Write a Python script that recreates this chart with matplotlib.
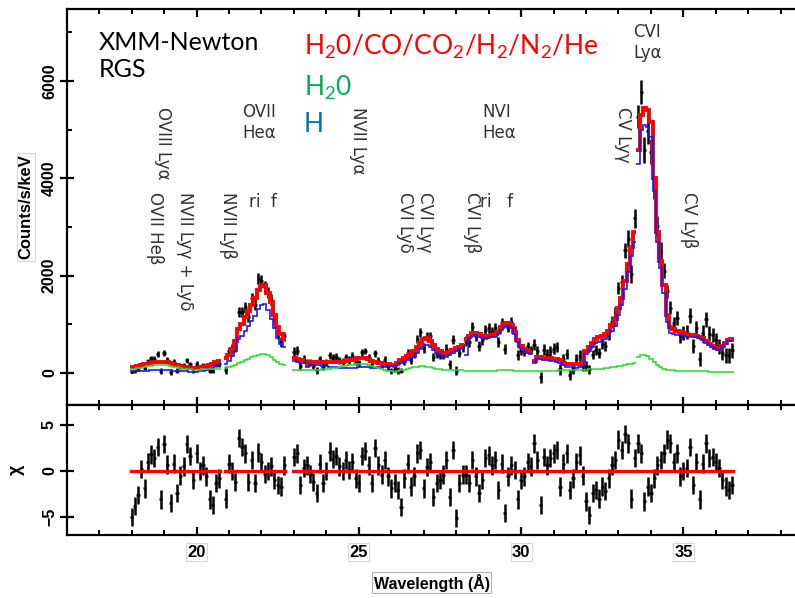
import numpy as np
import matplotlib.pyplot as plt
from matplotlib.ticker import MultipleLocator

plt.rcParams['mathtext.default'] = 'regular'
plt.rcParams['font.family'] = 'Liberation Sans'

# RGS channel groups: first / last bin centre (Angstrom), 0.1 A bins
segments = [(18.0, 20.7), (20.9, 22.7), (23.0, 23.3), (23.4, 28.2),
            (28.3, 30.3), (30.4, 33.5), (33.6, 36.5)]
bin_width = 0.1

# full model H2O/CO/CO2/H2/N2/He (counts/s/keV)
model_all = [
    120, 130, 145, 160, 180, 195, 210, 220, 230, 235, 230, 220, 205, 185, 165, 150, 130, 115, 105, 100,
    100, 110, 125, 145, 170, 195, 220, 245,
    300, 380, 500, 650, 900, 1000, 1150, 1280, 1400, 1550, 1700, 1780, 1800, 1650, 1450, 1200, 950, 800, 700,
    300, 290, 270, 260,
    170, 230, 230, 225, 225, 220,
    220, 220, 220, 225, 230, 235, 245, 260, 275, 290,
    300, 305, 300, 280, 255, 230, 215, 200, 190, 180,
    170, 160, 200, 260, 300, 350, 400, 450, 530, 620,
    700, 710, 660, 580, 500, 450, 410, 400, 430, 480,
    510, 540, 570,
    700, 760, 820, 830, 800, 770, 750, 760, 780, 800, 850, 940, 1000, 1020, 980, 850, 680, 560, 500, 460, 430,
    250, 320, 320, 315, 310, 300,
    290, 280, 260, 210, 185, 180, 175, 175, 180, 200,
    460, 530, 620, 690, 730, 770, 800, 870, 980, 1100,
    1330, 1550, 1900, 2250, 2600, 2900,
    4580, 5300, 5440, 5400, 5150, 4000, 2900, 2300, 1800, 1200,
    950, 900, 870, 850, 820, 800, 790, 780, 770, 750,
    710, 650, 600, 560, 520, 500, 560, 620, 680, 690,
]

# charge exchange with H only
model_h = [
    50, 50, 50, 50, 50, 50, 55, 60, 60, 65, 65, 60, 55, 50, 45, 40, 35, 35, 30, 30,
    30, 35, 45, 60, 80, 110, 140, 165,
    190, 250, 340, 460, 690, 760, 870, 970, 1060, 1180, 1320, 1390, 1410, 1290, 1120, 920, 720, 600, 530,
    240, 230, 210, 200,
    115, 170, 170, 160, 155, 145,
    140, 130, 120, 115, 110, 100, 95, 100, 105, 110,
    115, 120, 120, 115, 110, 110, 115, 120, 130, 135,
    135, 130, 160, 205, 230, 265, 300, 335, 405, 485,
    565, 580, 540, 475, 410, 370, 340, 335, 370, 420,
    455, 485, 515,
    380, 710, 770, 780, 750, 720, 700, 710, 730, 750, 795, 885, 945, 965, 925, 800, 630, 515, 455, 415, 385,
    210, 280, 278, 271, 265, 254,
    242, 230, 208, 156, 129, 122, 115, 113, 116, 134,
    390, 456, 542, 608, 644, 678, 700, 762, 864, 974,
    1194, 1400, 1735, 2070, 2405, 2690,
    4300, 5000, 5100, 5050, 4850, 3750, 2700, 2150, 1650, 1050,
    830, 800, 790, 780, 760, 750, 745, 740, 730, 710,
    670, 620, 570, 530, 495, 475, 535, 595, 655, 665,
]

# charge exchange with H2O only
model_h2o = [
    75, 85, 95, 110, 125, 140, 150, 155, 165, 165, 160, 155, 145, 130, 115, 105, 90, 80, 75, 70,
    65, 70, 75, 80, 85, 85, 80, 80,
    110, 125, 145, 170, 200, 230, 260, 290, 320, 350, 370, 385, 385, 360, 320, 270, 220, 185, 160,
    60, 60, 60, 60,
    55, 60, 60, 65, 70, 75,
    80, 90, 100, 110, 120, 135, 150, 160, 170, 180,
    185, 185, 180, 165, 145, 120, 100, 80, 60, 45,
    35, 30, 40, 55, 70, 85, 100, 115, 125, 135,
    135, 130, 120, 105, 90, 80, 70, 65, 60, 60,
    55, 55, 55,
    50, 50, 50, 50, 50, 50, 50, 50, 50, 50, 55, 55, 55, 55, 55, 50, 50, 45, 45, 45, 45,
    40, 40, 42, 44, 45, 46,
    48, 50, 52, 54, 56, 58, 60, 62, 64, 66,
    70, 74, 78, 82, 86, 92, 100, 108, 116, 126,
    136, 150, 165, 180, 195, 210,
    330, 370, 370, 340, 280, 220, 160, 120, 90, 70,
    60, 55, 50, 48, 46, 44, 42, 40, 38, 36,
    34, 32, 30, 30, 28, 28, 26, 26, 25, 25,
]

# 1-sigma errors on the data (counts/s/keV)
err = [
    20, 25, 30, 35, 40, 45, 50, 55, 60, 60, 60, 60, 55, 55, 50, 50, 50, 50, 50, 50,
    50, 50, 55, 40, 40, 40, 45, 65,
    80, 85, 90, 95, 100, 100, 105, 105, 110, 115, 120, 120, 120, 115, 110, 105, 100, 95, 90,
    90, 90, 85, 85,
    70, 70, 70, 70, 70, 70,
    70, 70, 70, 70, 70, 70, 70, 75, 75, 75,
    75, 75, 70, 70, 70, 70, 70, 70, 70, 70,
    65, 65, 70, 55, 75, 80, 80, 85, 90, 95,
    100, 100, 95, 90, 85, 85, 85, 85, 90, 90,
    90, 95, 95,
    100, 100, 105, 105, 105, 100, 100, 100, 100, 105, 105, 110, 110, 110, 110, 105, 100, 95, 90, 90, 85,
    110, 110, 110, 110, 110, 110,
    110, 110, 110, 105, 105, 105, 105, 105, 105, 105,
    95, 95, 100, 100, 105, 105, 110, 110, 115, 120,
    125, 140, 155, 170, 185, 200,
    230, 250, 260, 255, 250, 230, 200, 180, 160, 140,
    130, 130, 140, 140, 140, 150, 150, 150, 150, 150,
    150, 150, 150, 150, 150, 150, 150, 150, 150, 150,
]

# residuals (data - model) / error
chi = [
    -5.0, -3.8, -2.6, 0.2, -1.9, 1.0, 1.8, 1.4, 2.6, -3.1, 2.9, 0.7, -3.5, 0.8, -2.4, -0.5, 0.5, 2.9, 1.6, -1.0,
    1.9, 0.0, 0.6, -0.6, -3.1, -3.7, -1.3, -0.8,
    -3.0, 0.8, 0.0, -1.2, 3.6, 2.6, 1.9, -1.2, 1.2, -1.3, 2.0, 1.0, -0.3, 0.0, 0.5, -1.0, -1.5, -1.7, 0.6,
    1.5, 1.9, -1.5, 0.3,
    0.6, -0.3, -1.2, -2.4, 0.8, -1.3,
    0.0, 2.1, 1.3, 1.6, 0.5, 0.0, 1.2, 0.1, 1.0, -0.8,
    -1.3, 1.6, 2.2, 0.6, -1.3, 2.5, 0.6, -0.4, 1.2, -0.6,
    -1.9, -1.3, -2.1, -3.9, -0.8, 0.8, -1.7, -0.6, 1.9, 2.3,
    -1.9, 0.4, 1.0, -2.8, -1.3, -1.0, -0.4, 1.2, -2.8, 2.3,
    -5.1, -1.3, -0.4,
    -0.4, -1.3, 1.2, -0.6, -2.4, -1.0, 1.4, 1.7, 0.6, 1.2, -2.1, 0.8, -4.6, -0.6, 0.6, 0.1, -3.1, -1.0, -0.6, 1.0, 0.5,
    3.0, 1.2, -3.7, 1.5, 0.6, 1.4,
    1.9, 2.3, -1.7, 0.8, 1.9, -2.1, -0.8, 1.0, 1.7, -0.5,
    -3.3, -4.8, -2.4, -2.1, -3.0, -1.7, -2.2, -0.8, 0.6, 1.2,
    3.4, 2.3, 4.0, 3.0, -3.0, 1.4,
    3.0, 1.9, -3.3, -1.7, -2.4, -0.8, 0.6, 1.2, 1.9, 3.4,
    3.0, 1.0, 1.9, -0.6, 0.0, 0.3, 2.6, -1.5, 1.0, -3.1,
    0.8, 3.0, 1.4, 1.5, 1.0, 0.3, -1.0, -1.7, -2.1, -1.5,
]

red = '#ff0000'
blue = '#1a1aff'
green = '#22dd22'
bold_font = dict(family='Liberation Sans', fontweight='bold')

fig = plt.figure(figsize=(7.95, 5.98), dpi=100)
ax1 = fig.add_axes([0.0839, 0.3227, 0.9186, 0.6623])
ax2 = fig.add_axes([0.0839, 0.1054, 0.9186, 0.2173])

start = 0
for a, b in segments:
    wl = np.round(np.arange(a, b + bin_width / 2, bin_width), 2)
    n = len(wl)
    sl = slice(start, start + n)
    start += n
    edges = np.append(wl - bin_width / 2, wl[-1] + bin_width / 2)
    m_all = np.array(model_all[sl], dtype=float)
    e = np.array(err[sl], dtype=float)
    c = np.array(chi[sl], dtype=float)
    data = m_all + c * e

    ax1.errorbar(wl, data, yerr=e, xerr=bin_width / 2, fmt='none', ecolor='k',
                 elinewidth=1.8, capsize=0, zorder=2)
    ax1.stairs(m_all, edges, baseline=None, color=red, lw=2.8, zorder=3)
    ax1.stairs(model_h[sl], edges, baseline=None, color=blue, lw=1.2, zorder=4)
    ax1.stairs(model_h2o[sl], edges, baseline=None, color=green, lw=1.1, zorder=4)

    ax2.errorbar(wl, c, yerr=1.0, xerr=bin_width / 2, fmt='none', ecolor='k',
                 elinewidth=1.8, capsize=0, zorder=2)
    ax2.plot([edges[0] + 0.02, edges[-1] - 0.02], [0, 0], color=red, lw=2.4, zorder=3)

ax1.set_xlim(16, 38.5)
ax1.set_ylim(-658, 7482)
ax2.set_xlim(16, 38.5)
ax2.set_ylim(-6.96, 7.17)

for ax in (ax1, ax2):
    for s in ax.spines.values():
        s.set_linewidth(1.6)
    ax.xaxis.set_major_locator(MultipleLocator(5))
    ax.xaxis.set_minor_locator(MultipleLocator(1))
    ax.tick_params(axis='x', which='major', direction='in', top=True, length=6, width=1.6)
    ax.tick_params(axis='x', which='minor', direction='in', top=True, length=3.5, width=1.4)
    ax.tick_params(axis='y', which='major', direction='inout', length=10, width=1.6,
                   labelsize=11.5, pad=2)
    ax.tick_params(axis='y', which='minor', direction='in', length=3.5, width=1.4)

ax1.yaxis.set_major_locator(MultipleLocator(2000))
ax1.yaxis.set_minor_locator(MultipleLocator(1000))
ax1.tick_params(axis='x', labelbottom=False)
ax2.set_yticks([-5, 0, 5])
ax2.set_yticklabels(['\u22125', '0', '5'])
ax2.tick_params(axis='x', labelsize=12, pad=7)

for ax in (ax1, ax2):
    for lab in ax.get_yticklabels():
        lab.set_rotation(90)
        lab.set_va('center')
        lab.set_fontweight('bold')
for lab in ax2.get_xticklabels():
    lab.set_fontweight('bold')
    lab.set_bbox(dict(facecolor='white', edgecolor='#d8d8d8', lw=0.8, pad=1))

ax1.set_ylabel('Counts/s/keV', fontsize=12, labelpad=6,
               bbox=dict(facecolor='white', edgecolor='#d8d8d8', lw=0.8, pad=1), **bold_font)
ax2.set_ylabel('\u03c7', fontsize=13, labelpad=12, **bold_font)
ax2.set_xlabel('Wavelength (\u00c5)', fontsize=11.5, labelpad=10,
               bbox=dict(facecolor='white', edgecolor='#b0b0b0', lw=0.8, pad=1), **bold_font)

# line identifications
lab_kw = dict(fontsize=12, color='#333333', family='DejaVu Sans')
rot_kw = dict(rotation=-90, ha='center', va='top', **lab_kw)
ax1.text(18.97, 5470, 'OVIII Ly\u03b1', **rot_kw)
ax1.text(18.71, 3720, 'OVII He\u03b2', **rot_kw)
ax1.text(19.64, 3720, 'NVII Ly\u03b3 + Ly\u03b4', **rot_kw)
ax1.text(20.96, 3720, 'NVII Ly\u03b2', **rot_kw)
ax1.text(24.97, 5470, 'NVII Ly\u03b1', **rot_kw)
ax1.text(26.73, 3720, 'CVI Ly\u03b3\nCVI Ly\u03b4', **rot_kw)
ax1.text(28.48, 3720, 'CVI Ly\u03b2', **rot_kw)
ax1.text(33.14, 5470, 'CV Ly\u03b3', **rot_kw)
ax1.text(35.18, 3720, 'CV Ly\u03b2', **rot_kw)
ax1.text(21.4, 5550, 'OVII\nHe\u03b1', ha='left', va='top', **lab_kw)
ax1.text(21.61, 3700, 'ri  f', ha='left', va='top', **lab_kw)
ax1.text(28.82, 5550, 'NVI\nHe\u03b1', ha='left', va='top', **lab_kw)
ax1.text(28.73, 3700, 'ri   f', ha='left', va='top', **lab_kw)
ax1.text(33.45, 7190, 'CVI\nLy\u03b1', ha='left', va='top', **lab_kw)

fig.text(0.1245, 0.948, 'XMM-Newton\nRGS', ha='left', va='top', fontsize=18,
         family='Lato', linespacing=1.22, color='black')
fig.text(0.382, 0.945, 'H$_2$0/CO/CO$_2$/H$_2$/N$_2$/He', ha='left', va='top',
         fontsize=19, family='Lato', color='#ff0000')
fig.text(0.382, 0.877, 'H$_2$0', ha='left', va='top', fontsize=19, family='Lato',
         color='#00b050')
fig.text(0.382, 0.813, 'H', ha='left', va='top', fontsize=19, family='Lato',
         color='#0070c0')

fig.savefig('out.png', dpi=100)
